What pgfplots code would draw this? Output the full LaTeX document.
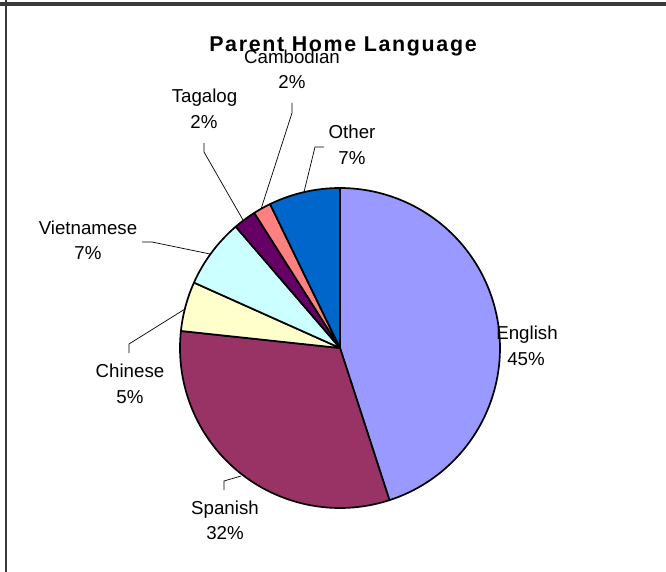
\documentclass[border=0pt]{standalone}
\usepackage{pgfplots}
\pgfplotsset{compat=1.18}
\usepackage{pgfplotstable}
\usepackage{fontspec}
\setmainfont{Liberation Sans}
\definecolor{cEng}{HTML}{9999FF}
\definecolor{cSpa}{HTML}{993366}
\definecolor{cChi}{HTML}{FFFFCC}
\definecolor{cVie}{HTML}{CCFFFF}
\definecolor{cTag}{HTML}{660066}
\definecolor{cCam}{HTML}{FF8080}
\definecolor{cOth}{HTML}{0066CC}
\definecolor{frame}{HTML}{3A3A3A}

\pgfplotstableread{
lang pct
English 45.0
Spanish 31.7
Chinese 5.0
Vietnamese 7.0
Tagalog 2.3
Cambodian 1.8
Other 7.2
}\piedata

\pgfplotstablegetelem{0}{pct}\of\piedata\pgfmathsetmacro\eA{3.6*\pgfplotsretval}
\pgfplotstablegetelem{1}{pct}\of\piedata\pgfmathsetmacro\eB{\eA+3.6*\pgfplotsretval}
\pgfplotstablegetelem{2}{pct}\of\piedata\pgfmathsetmacro\eC{\eB+3.6*\pgfplotsretval}
\pgfplotstablegetelem{3}{pct}\of\piedata\pgfmathsetmacro\eD{\eC+3.6*\pgfplotsretval}
\pgfplotstablegetelem{4}{pct}\of\piedata\pgfmathsetmacro\eE{\eD+3.6*\pgfplotsretval}
\pgfplotstablegetelem{5}{pct}\of\piedata\pgfmathsetmacro\eF{\eE+3.6*\pgfplotsretval}
\pgfplotstablegetelem{6}{pct}\of\piedata\pgfmathsetmacro\eG{\eF+3.6*\pgfplotsretval}

\newcommand\lbl{\fontsize{18.7bp}{22bp}\selectfont}
\newcommand\ttl{\fontsize{21.4bp}{25bp}\selectfont\bfseries\addfontfeatures{LetterSpace=7.8}}

\pgfplotsset{wedge/.style={draw=black, line width=1.7bp, line join=round, samples=90, variable=\t}}

\begin{document}
\begin{tikzpicture}
\begin{axis}[width=666bp,height=572bp,scale only axis,
  xmin=0,xmax=666,ymin=0,ymax=572,y dir=reverse,
  axis lines=none,clip=false,no markers]
% background and frame
\addplot[fill=white,draw=none] coordinates {(0,0)(666,0)(666,572)(0,572)} -- cycle;
\addplot[fill=frame,draw=none] coordinates {(0,1.7)(666,1.7)(666,6)(0,6)} -- cycle;
\addplot[fill=frame,draw=none] coordinates {(5,0)(7.3,0)(7.3,572)(5,572)} -- cycle;
% pie wedges (clockwise from 12 o'clock)
\addplot[wedge, fill=cEng, domain=0:\eA] ({340+160*sin(\t)},{348-160*cos(\t)}) -- (axis cs:340,348) -- cycle;
\addplot[wedge, fill=cSpa, domain=\eA:\eB] ({340+160*sin(\t)},{348-160*cos(\t)}) -- (axis cs:340,348) -- cycle;
\addplot[wedge, fill=cChi, domain=\eB:\eC] ({340+160*sin(\t)},{348-160*cos(\t)}) -- (axis cs:340,348) -- cycle;
\addplot[wedge, fill=cVie, domain=\eC:\eD] ({340+160*sin(\t)},{348-160*cos(\t)}) -- (axis cs:340,348) -- cycle;
\addplot[wedge, fill=cTag, domain=\eD:\eE] ({340+160*sin(\t)},{348-160*cos(\t)}) -- (axis cs:340,348) -- cycle;
\addplot[wedge, fill=cCam, domain=\eE:\eF] ({340+160*sin(\t)},{348-160*cos(\t)}) -- (axis cs:340,348) -- cycle;
\addplot[wedge, fill=cOth, domain=\eF:\eG] ({340+160*sin(\t)},{348-160*cos(\t)}) -- (axis cs:340,348) -- cycle;
% leader lines
\addplot[black, line width=0.7bp] coordinates {(304,192)(315,147)(324,147)};
\addplot[black, line width=0.7bp] coordinates {(261,209)(292,113)(292,103)};
\addplot[black, line width=0.7bp] coordinates {(243,220)(204,152)(204,143)};
\addplot[black, line width=0.7bp] coordinates {(210,254)(152,242)(142,242)};
\addplot[black, line width=0.7bp] coordinates {(185,309)(129,344)(129,353)};
\addplot[black, line width=0.7bp] coordinates {(241,476)(224,481)(224,490)};
% title
\node[anchor=base, font=\ttl, inner sep=0pt] at (axis cs:343,51.7) {Parent Home Language};
% labels
\node[anchor=base, font=\lbl, inner sep=0pt] at (axis cs:292,63.3) {Cambodian};
\node[anchor=base, font=\lbl, inner sep=0pt] at (axis cs:292,88.3) {2\%};
\node[anchor=base, font=\lbl, inner sep=0pt] at (axis cs:204.5,102.7) {Tagalog};
\node[anchor=base, font=\lbl, inner sep=0pt] at (axis cs:204,128.3) {2\%};
\node[anchor=base, font=\lbl, inner sep=0pt] at (axis cs:352,138.3) {Other};
\node[anchor=base, font=\lbl, inner sep=0pt] at (axis cs:352,164) {7\%};
\node[anchor=base, font=\lbl, inner sep=0pt] at (axis cs:88,234.5) {Vietnamese};
\node[anchor=base, font=\lbl, inner sep=0pt] at (axis cs:88,259.3) {7\%};
\node[anchor=base, font=\lbl, inner sep=0pt] at (axis cs:130,377.3) {Chinese};
\node[anchor=base, font=\lbl, inner sep=0pt] at (axis cs:130,403.3) {5\%};
\node[anchor=base, font=\lbl, inner sep=0pt] at (axis cs:527,339.3) {English};
\node[anchor=base, font=\lbl, inner sep=0pt] at (axis cs:526,365) {45\%};
\node[anchor=base, font=\lbl, inner sep=0pt] at (axis cs:225,514.5) {Spanish};
\node[anchor=base, font=\lbl, inner sep=0pt] at (axis cs:225,539) {32\%};
\end{axis}
\end{tikzpicture}
\end{document}
